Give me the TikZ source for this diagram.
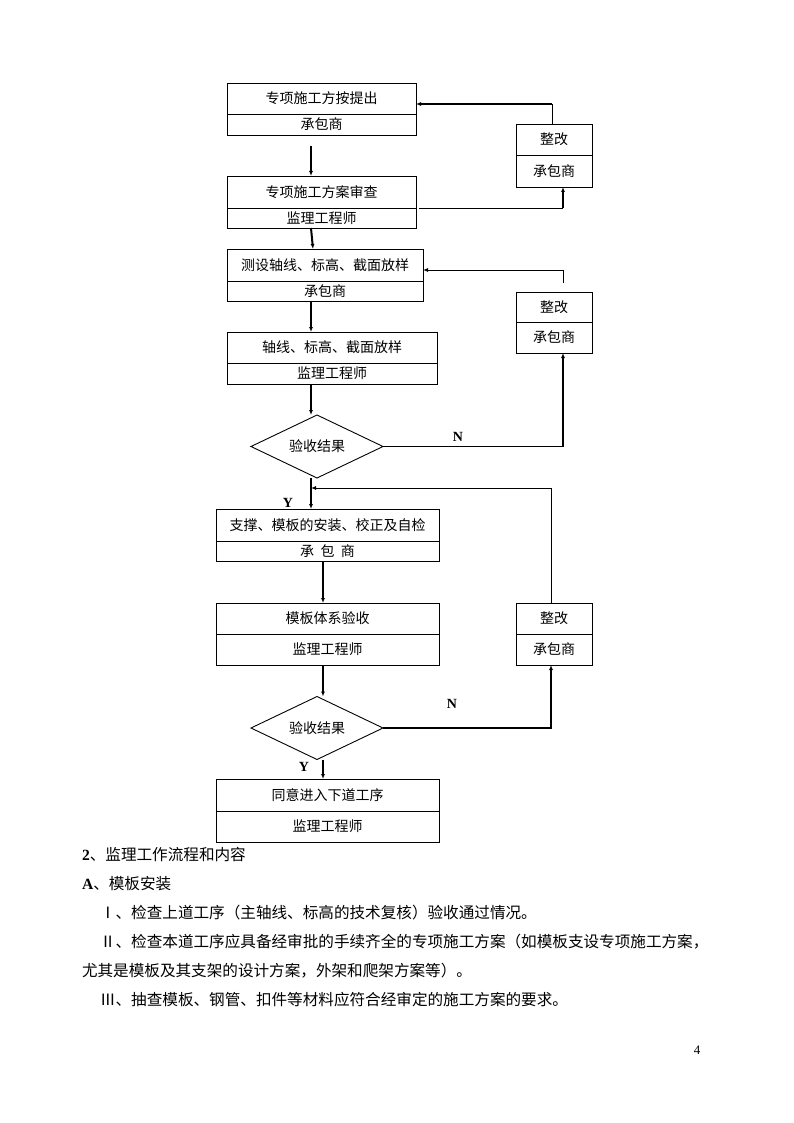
\documentclass[tikz,border=0pt]{standalone}
\usepackage{fontspec}
\setmainfont{Noto Sans CJK SC}
\newfontfamily\tnr{Liberation Serif}
\usetikzlibrary{shapes.geometric,arrows.meta,calc}
\newcommand{\fwnum}[1]{\makebox[1em][c]{#1}}
\begin{document}
\begin{tikzpicture}[x=1pt,y=-1pt,
  every node/.style={inner sep=0pt,outer sep=0pt},
  part/.style={draw,line width=0.9pt,font=\fontsize{14}{16}\selectfont},
  dia/.style={draw,line width=0.9pt,diamond,aspect=2,minimum width=132pt,minimum height=63pt,font=\fontsize{14}{16}\selectfont},
  tip/.style={-{Latex[length=5pt,width=4pt]}},
  mainarr/.style={tip,line width=2pt},
  fbthin/.style={line width=0.9pt},
  fbthick/.style={line width=1.8pt},
  yn/.style={font=\tnr\bfseries\fontsize{14}{14}\selectfont},
  body/.style={anchor=west,font=\fontsize{15.6}{18}\selectfont}]
\useasboundingbox (0,0) rectangle (794,1123);
\fill[white] (0,0) rectangle (794,1123);
% helper columns and rows
\coordinate (sp1) at (311,0);
\coordinate (sp2) at (323,0);
\coordinate (cA) at (552,0);
\coordinate (cB) at (563,0);
\coordinate (cC) at (551,0);
\coordinate (r1) at (0,104);
\coordinate (r3) at (0,270);
\coordinate (r5) at (0,488);
% left boxes
\node[part,minimum width=189pt,minimum height=31pt,anchor=north west] (b1) at (227,83) {专项施工方按提出};
\node[part,minimum width=189pt,minimum height=21pt,anchor=north] (b1r) at (b1.south) {承包商};
\node[part,minimum width=189pt,minimum height=32pt,anchor=north west] (b2) at (227,176) {专项施工方案审查};
\node[part,minimum width=189pt,minimum height=20pt,anchor=north] (b2r) at (b2.south) {监理工程师};
\node[part,minimum width=196pt,minimum height=32pt,anchor=north west] (b3) at (227,249) {测设轴线、标高、截面放样};
\node[part,minimum width=196pt,minimum height=20pt,anchor=north] (b3r) at (b3.south) {承包商};
\node[part,minimum width=210pt,minimum height=31pt,anchor=north west] (b4) at (227,332) {轴线、标高、截面放样};
\node[part,minimum width=210pt,minimum height=21pt,anchor=north] (b4r) at (b4.south) {监理工程师};
\node[dia] (d1) at (317,446.5) {验收结果};
\node[part,minimum width=223pt,minimum height=32pt,anchor=north west] (b5) at (216,509) {支撑、模板的安装、校正及自检};
\node[part,minimum width=223pt,minimum height=20pt,anchor=north] (b5r) at (b5.south) {承\hspace{6.5pt}包\hspace{6.5pt}商};
\node[part,minimum width=223pt,minimum height=31pt,anchor=north west] (b6) at (216,603) {模板体系验收};
\node[part,minimum width=223pt,minimum height=31pt,anchor=north] (b6r) at (b6.south) {监理工程师};
\node[dia] (d2) at (317,728) {验收结果};
\node[part,minimum width=223pt,minimum height=32pt,anchor=north west] (b7) at (216,779) {同意进入下道工序};
\node[part,minimum width=223pt,minimum height=31pt,anchor=north] (b7r) at (b7.south) {监理工程师};
% right boxes
\node[part,minimum width=76pt,minimum height=31pt,anchor=north west] (z1) at (516,124) {整改};
\node[part,minimum width=76pt,minimum height=32pt,anchor=north] (z1r) at (z1.south) {承包商};
\node[part,minimum width=76pt,minimum height=30pt,anchor=north west] (z2) at (516,292) {整改};
\node[part,minimum width=76pt,minimum height=31pt,anchor=north] (z2r) at (z2.south) {承包商};
\node[part,minimum width=76pt,minimum height=31pt,anchor=north west] (z3) at (516,603) {整改};
\node[part,minimum width=76pt,minimum height=31pt,anchor=north] (z3r) at (z3.south) {承包商};
% main flow
\draw[mainarr,shorten <=11pt] (b1r.south -| sp1) -- (b2.north -| sp1);
\draw[mainarr] (b2r.south -| sp1) -- ($(b3.north -| sp1)+(2,0)$);
\draw[mainarr] (b3r.south -| sp1) -- (b4.north -| sp1);
\draw[mainarr] (b4r.south -| sp1) -- (d1.north -| sp1);
\draw[mainarr] (d1.south -| sp1) -- (b5.north -| sp1);
\draw[mainarr] (b5r.south -| sp2) -- (b6.north -| sp2);
\draw[mainarr] (b6r.south -| sp2) -- (d2.north -| sp2);
\draw[mainarr] (d2.south -| sp2) -- (b7.north -| sp2);
% feedback loops
\draw[fbthin] (z1.north -| cA) -- (cA |- r1);
\draw[fbthick,tip] (cA |- r1) -- (b1.east |- r1);
\draw[fbthin,shorten <=3pt] (b2.south east) -- (b2.south east -| cB);
\draw[fbthick,tip] (b2.south east -| cB) -- (z1r.south -| cB);
\draw[fbthin,tip,shorten <=9pt] (z2.north -| cB) -- (cB |- r3) -- (b3.east |- r3);
\draw[line width=1.3pt,tip] (d1.east) -| (z2r.south -| cB);
\draw[fbthin,tip] (z3.north -| cC) -- (cC |- r5) -- (sp1 |- r5);
\draw[line width=1.3pt,tip] (d2.east) -| (z3r.south -| cC);
% labels
\node[yn] (n1) at (458,437) {N};
\node[yn] (y1) at (288,503) {Y};
\node[yn] (n2) at (452,704) {N};
\node[yn] (y2) at (304,767) {Y};
% text
\node[body] (t1) at (82,855) {{\tnr\bfseries 2}、监理工作流程和内容};
\node[body] (t2) at (82,884) {{\tnr\bfseries A}、模板安装};
\node[body] (t3) at (100,913) {\fwnum{Ⅰ}、检查上道工序（主轴线、标高的技术复核）验收通过情况。};
\node[body] (t4) at (100,942) {\fwnum{Ⅱ}、检查本道工序应具备经审批的手续齐全的专项施工方案（如模板支设专项施工方案，};
\node[body] (t5) at (82,971) {尤其是模板及其支架的设计方案，外架和爬架方案等）。};
\node[body] (t6) at (100,1000) {\fwnum{Ⅲ}、抽查模板、钢管、扣件等材料应符合经审定的施工方案的要求。};
\node[font=\tnr\fontsize{13}{13}\selectfont] (pg) at (697,1050) {4};
\end{tikzpicture}
\end{document}
